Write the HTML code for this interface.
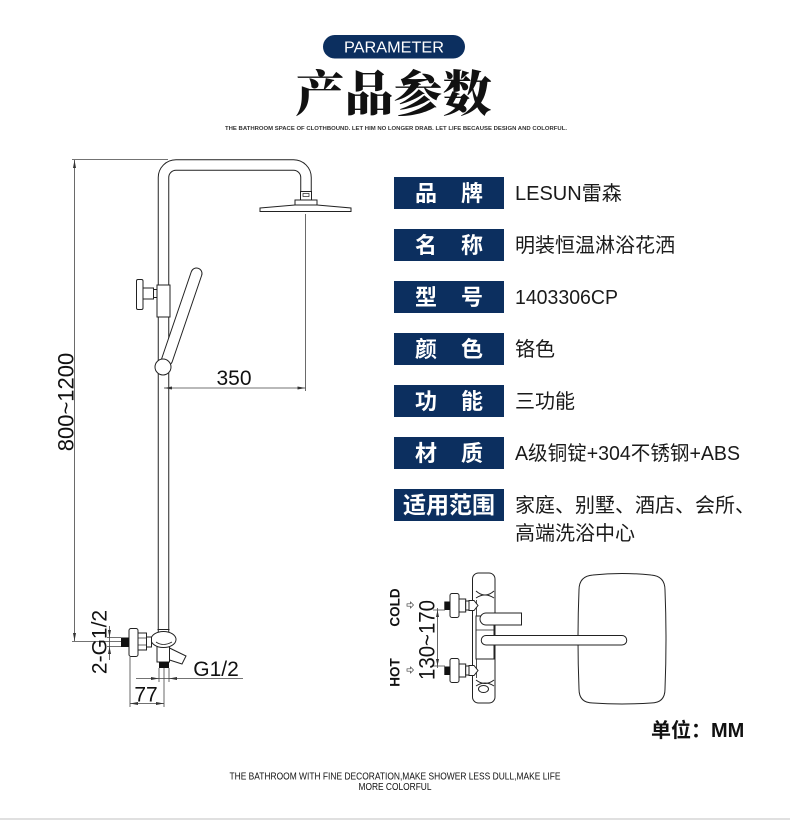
<!DOCTYPE html>
<html><head><meta charset="utf-8"><style>
html,body{margin:0;padding:0;background:#fff;}
svg{display:block;}
</style></head><body>
<svg width="790" height="820" viewBox="0 0 790 820" xmlns="http://www.w3.org/2000/svg">
<rect width="790" height="820" fill="#fff"/>

<!-- HEADER -->
<rect x="323" y="35" width="142" height="23.5" rx="11.75" fill="#0c2f5f"/>
<text x="394" y="52.5" font-family="'Liberation Sans',sans-serif" font-size="16" fill="#fff" text-anchor="middle" textLength="100" lengthAdjust="spacingAndGlyphs">PARAMETER</text>
<text x="393.5" y="111" font-family="'Liberation Serif','Noto Serif CJK SC',serif" font-weight="900" font-size="49" text-anchor="middle" fill="#111">产品参数</text>
<text x="396" y="130" font-family="'Liberation Sans',sans-serif" font-size="5.5" font-weight="bold" fill="#333" text-anchor="middle" textLength="342" lengthAdjust="spacingAndGlyphs">THE BATHROOM SPACE OF CLOTHBOUND. LET HIM NO LONGER DRAB. LET LIFE BECAUSE DESIGN AND COLORFUL.</text>

<!-- LEFT DRAWING: pipe -->
<path d="M163.5,632 V177.5 A12.5,12.5 0 0 1 176,165 H293.5 A12.5,12.5 0 0 1 306,177.5 V192" fill="none" stroke="#222" stroke-width="11.5"/>
<path d="M163.5,633 V177.5 A12.5,12.5 0 0 1 176,165 H293.5 A12.5,12.5 0 0 1 306,177.5 V193" fill="none" stroke="#fff" stroke-width="9.5"/>

<!-- shower head -->
<g fill="#fff" stroke="#222" stroke-width="1">
<rect x="300.5" y="191.5" width="11" height="8.5"/>
<rect x="303" y="193.5" width="6" height="3" stroke-width="0.7"/>
<rect x="295" y="200" width="22" height="5"/>
<path d="M260,208 L295,205 L317,205 L351,208 L351,211.5 L260,211.5 Z"/>
</g>

<!-- diverter block & knob -->
<g fill="#fff" stroke="#222" stroke-width="1">
<rect x="157" y="285" width="13" height="32"/>
<rect x="143" y="288" width="10.5" height="11"/>
<rect x="153.5" y="289.5" width="3.5" height="8"/>
<rect x="136.5" y="279.5" width="6.5" height="30" rx="1.5"/>
</g>

<!-- handheld -->
<line x1="196.5" y1="273.5" x2="167" y2="360" stroke="#222" stroke-width="12" stroke-linecap="round"/>
<line x1="196.5" y1="273.5" x2="167" y2="360" stroke="#fff" stroke-width="10" stroke-linecap="round"/>
<circle cx="163" cy="367" r="8" fill="#fff" stroke="#222" stroke-width="1"/>

<!-- bottom fitting -->
<g fill="#fff" stroke="#222" stroke-width="1">
<line x1="157.5" y1="629.5" x2="169.5" y2="629.5"/>
<rect x="157" y="646" width="12.5" height="16"/>
<path d="M169.5,648 L186,656 L182,664 L169.5,660 Z"/>
<ellipse cx="163.5" cy="639.5" rx="12.5" ry="8"/>
<path d="M156,642 Q163,647 172,642" fill="none" stroke-width="0.8"/>
<rect x="146.5" y="637" width="5" height="10"/>
<rect x="138" y="633" width="8.5" height="17"/>
<line x1="138" y1="638" x2="146.5" y2="638" stroke-width="0.7"/>
<line x1="138" y1="645" x2="146.5" y2="645" stroke-width="0.7"/>
<rect x="129" y="628.5" width="9" height="28" rx="2"/>
</g>
<rect x="121" y="637.5" width="8" height="9.5" fill="#111"/>
<rect x="159" y="662" width="10" height="6" fill="#111"/>

<!-- dimension lines -->
<g stroke="#444" stroke-width="0.8" fill="none">
<path d="M74.5,160 V641"/>
<path d="M72,159.5 H168"/>
<path d="M72,641.5 H121"/>
<path d="M164,388 H305.5"/>
<path d="M305.5,214 V391"/>
<path d="M107,637.5 H121 M107,646.5 H121 M109.5,626 V660"/>
<path d="M136,678.5 H243"/>
<path d="M159,668 V682 M169,668 V682"/>
<path d="M130,657 V707 M164,668 V707 M130,703.5 H164"/>
</g>
<g fill="#333">
<path d="M74.5,160 L73,168 L76,168 Z"/>
<path d="M74.5,641 L73,633 L76,633 Z"/>
<path d="M164,388 L172,386.5 L172,389.5 Z"/>
<path d="M305.5,388 L297.5,386.5 L297.5,389.5 Z"/>
<path d="M109.5,637.5 L108,630 L111,630 Z"/>
<path d="M109.5,646.5 L108,654 L111,654 Z"/>
<path d="M159,678.5 L151,677 L151,680 Z"/>
<path d="M169,678.5 L177,677 L177,680 Z"/>
<path d="M130,703.5 L138,702 L138,705 Z"/>
<path d="M164,703.5 L156,702 L156,705 Z"/>
</g>
<g font-family="'Liberation Sans',sans-serif" fill="#111">
<text transform="translate(73.5,402) rotate(-90)" font-size="22" text-anchor="middle">800~1200</text>
<text x="234" y="385" font-size="21" text-anchor="middle">350</text>
<text transform="translate(106.5,642) rotate(-90)" font-size="21" text-anchor="middle">2-G1/2</text>
<text x="216" y="676" font-size="21" text-anchor="middle">G1/2</text>
<text x="146" y="701.5" font-size="21" text-anchor="middle">77</text>
</g>

<!-- TABLE -->
<g fill="#0c2f5f">
<rect x="394" y="177" width="110" height="32"/>
<rect x="394" y="229" width="110" height="32"/>
<rect x="394" y="281" width="110" height="32"/>
<rect x="394" y="333" width="110" height="32"/>
<rect x="394" y="385" width="110" height="32"/>
<rect x="394" y="437" width="110" height="32"/>
<rect x="394" y="489" width="110" height="32"/>
</g>
<g font-family="'Liberation Sans','Noto Sans CJK SC',sans-serif" font-weight="bold" font-size="22" fill="#fff" text-anchor="middle">
<text x="426" y="201">品</text><text x="472" y="201">牌</text>
<text x="426" y="253">名</text><text x="472" y="253">称</text>
<text x="426" y="305">型</text><text x="472" y="305">号</text>
<text x="426" y="357">颜</text><text x="472" y="357">色</text>
<text x="426" y="409">功</text><text x="472" y="409">能</text>
<text x="426" y="461">材</text><text x="472" y="461">质</text>
<text x="449" y="513" font-size="23">适用范围</text>
</g>
<g font-family="'Liberation Sans','Noto Sans CJK SC',sans-serif" font-size="20" fill="#1a1a1a">
<text x="515" y="200">LESUN雷森</text>
<text x="515" y="252">明装恒温淋浴花洒</text>
<text x="515" y="304" textLength="103" lengthAdjust="spacingAndGlyphs">1403306CP</text>
<text x="515" y="356">铬色</text>
<text x="515" y="408">三功能</text>
<text x="515" y="460" textLength="225" lengthAdjust="spacingAndGlyphs">A级铜锭+304不锈钢+ABS</text>
<text x="515" y="512">家庭、别墅、酒店、会所、</text>
<text x="515" y="540">高端洗浴中心</text>
</g>

<!-- RIGHT BOTTOM DIAGRAM -->
<path d="M593,575 Q622,572 651,575 Q665,576 665,590 Q667,639 665,689 Q665,703 651,703 Q622,705 593,703 Q579,703 579,689 Q577,639 579,590 Q579,576 593,575 Z" fill="#fff" stroke="#222" stroke-width="1"/>
<g fill="#fff" stroke="#222" stroke-width="1">
<rect x="472.5" y="573" width="22.5" height="130" rx="6"/>
<line x1="476.5" y1="600" x2="476.5" y2="678" stroke-width="0.8"/>
<path d="M476,591 Q485,599 494,591" fill="none"/>
<path d="M476,598 Q485,592 494,598" fill="none"/>
<path d="M476,680 Q485,687 494,680" fill="none"/>
<path d="M476,686 Q485,680 494,686" fill="none"/>
<ellipse cx="483.5" cy="689" rx="5" ry="3.5"/>
<rect x="476" y="616" width="18" height="43"/>
<line x1="476" y1="630" x2="494" y2="630" stroke-width="0.8"/>
<path d="M521.5,613 V625 H486 A6,6 0 0 1 486,613 Z"/>
<path d="M486,635.5 H622 A4.75,4.75 0 0 1 622,645 H486 A4.75,4.75 0 0 1 486,635.5 Z"/>
</g>
<!-- inlets -->
<g fill="#fff" stroke="#222" stroke-width="1">
<rect x="450" y="593.5" width="9" height="24" rx="2"/>
<rect x="459" y="599" width="6.7" height="13"/>
<rect x="465.7" y="601" width="3.3" height="9"/>
<path d="M469,600.5 L474,600.5 L478,605.5 L474,610.5 L469,610.5 Z"/>
<rect x="450" y="658.5" width="9" height="24" rx="2"/>
<rect x="459" y="664" width="6.7" height="13"/>
<rect x="465.7" y="666" width="3.3" height="9"/>
<path d="M469,665.5 L474,665.5 L478,670.5 L474,675.5 L469,675.5 Z"/>
</g>
<rect x="444.3" y="601.5" width="5.7" height="8.5" fill="#111"/>
<rect x="444.3" y="666.5" width="5.7" height="8.5" fill="#111"/>
<g stroke="#444" stroke-width="0.8" fill="none">
<path d="M433,610 H445 M433,666 H445 M437.5,608 V668"/>
<path d="M407,603.8 H410.5 V602 L413.5,605 L410.5,608 V606.2 H407 Z" stroke-width="0.7"/>
<path d="M407,668.8 H410.5 V667 L413.5,670 L410.5,673 V671.2 H407 Z" stroke-width="0.7"/>
</g>
<g fill="#333">
<path d="M437.5,610 L436,617 L439,617 Z"/>
<path d="M437.5,666 L436,659 L439,659 Z"/>
</g>
<g font-family="'Liberation Sans',sans-serif" fill="#111">
<text transform="translate(399.5,607.5) rotate(-90)" font-size="13.5" font-weight="bold" text-anchor="middle">COLD</text>
<text transform="translate(399.5,672.5) rotate(-90)" font-size="13.5" font-weight="bold" text-anchor="middle">HOT</text>
<text transform="translate(434.5,640) rotate(-90)" font-size="22" text-anchor="middle" textLength="80" lengthAdjust="spacingAndGlyphs">130~170</text>
</g>

<!-- unit -->
<text x="651" y="737" font-family="'Liberation Sans','Noto Sans CJK SC',sans-serif" font-size="20" font-weight="bold" fill="#111">单位：MM</text>

<!-- footer -->
<text x="395" y="779.5" font-family="'Liberation Sans',sans-serif" font-size="10.5" fill="#111" text-anchor="middle" textLength="331" lengthAdjust="spacingAndGlyphs">THE BATHROOM WITH FINE DECORATION,MAKE SHOWER LESS DULL,MAKE LIFE</text>
<text x="395" y="790" font-family="'Liberation Sans',sans-serif" font-size="10.5" fill="#111" text-anchor="middle" textLength="73" lengthAdjust="spacingAndGlyphs">MORE COLORFUL</text>
<rect x="0" y="818" width="790" height="2" fill="#e0e0e0"/>
</svg>
</body></html>
